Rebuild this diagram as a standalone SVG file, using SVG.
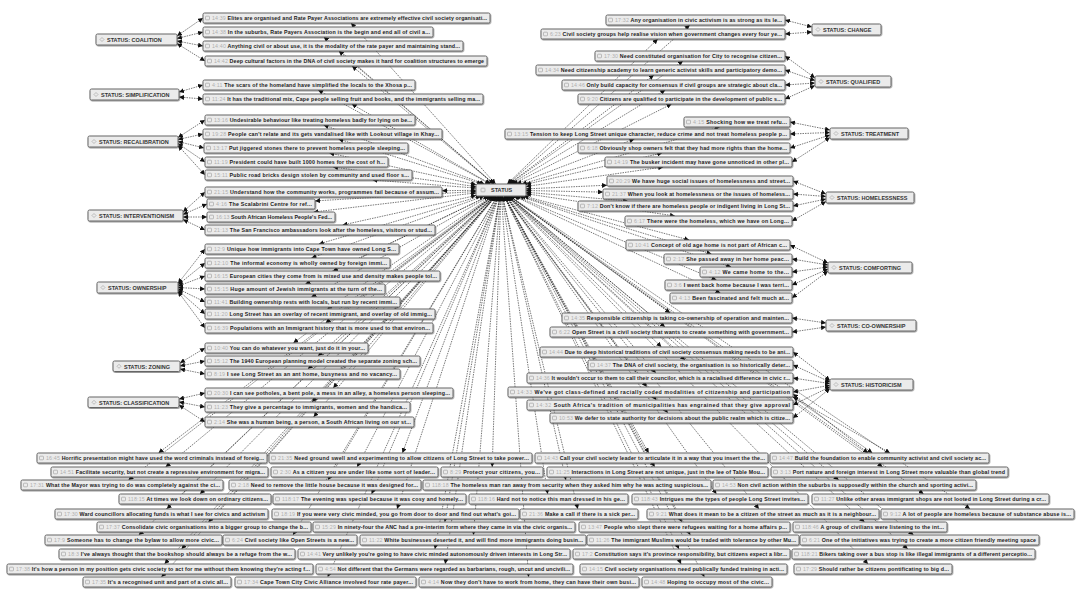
<svg xmlns="http://www.w3.org/2000/svg" xmlns:xlink="http://www.w3.org/1999/xlink" width="1079" height="608" viewBox="0 0 1079 608">
<style>
.n>rect,.k>rect{fill:#ebebeb;stroke:#666;stroke-width:1;filter:url(#sh)}
.n text{font-family:"Liberation Sans",Arial,sans-serif;font-size:5.3px;font-weight:bold;fill:#1a1a1a}
.k text{font-family:"Liberation Sans",Arial,sans-serif;font-size:5.5px;font-weight:bold;fill:#333}
.t{fill:#b0b0b0;font-weight:normal}
.c path{fill:none;stroke:#1e1e1e;stroke-width:.6;stroke-dasharray:1.5 1;marker-start:url(#a);marker-end:url(#a)}
</style>
<defs>
<filter id="sh" x="-5%" y="-40%" width="110%" height="190%"><feDropShadow dx="0.6" dy="0.9" stdDeviation="0.7" flood-color="#000" flood-opacity="0.45"/></filter>
<marker id="a" viewBox="0 0 6 6" refX="6" refY="3" markerWidth="5" markerHeight="5" markerUnits="userSpaceOnUse" orient="auto-start-reverse"><path d="M0,0L6,3L0,6z" fill="#111"/></marker>
<g id="qi"><rect width="4" height="3.6" rx=".6" fill="none" stroke="#9a9a9a" stroke-width=".6"/></g>
<g id="di"><path d="M2,0L4,2L2,4L0,2z" fill="none" stroke="#9a9a9a" stroke-width=".6"/></g>
</defs>
<rect width="1079" height="608" fill="#fff"/>
<g id="connectors" class="c">
<path d="M495.6 184L351 23"/><path d="M494 184L323.8 37"/><path d="M494 184L338.8 51"/><path d="M493.8 184L352 66"/><path d="M490 184L318.1 90"/><path d="M490.6 184L351.7 104"/><path d="M484.6 184L323.6 125"/><path d="M481.9 184L338.4 139"/><path d="M476 184.6L329.2 153"/><path d="M476 186.6L333 167"/><path d="M476 188.1L372.6 180"/><path d="M476 190.3L442 190.7"/><path d="M476 191.5L315 200.9"/><path d="M476 192.9L313.6 212"/><path d="M476 195.5L342.6 225"/><path d="M480.8 196L318.9 244"/><path d="M484.3 196L311.4 258"/><path d="M488.5 196L332.9 271"/><path d="M488.5 196L305.4 284"/><path d="M490.4 196L311.4 297"/><path d="M492.2 196L327.3 309"/><path d="M493.1 196L325.6 323"/><path d="M492.9 196L293.3 343"/><path d="M494.4 196L318 356"/><path d="M494.5 196L307.9 369"/><path d="M495.9 196L333.2 388"/><path d="M495.7 196L312 402"/><path d="M496 196L313.6 417"/>
<path d="M507.9 184L689.8 25"/><path d="M507.2 184L657.8 39"/><path d="M509.5 184L683 61"/><path d="M509 184L653.9 75"/><path d="M510.9 184L665.3 90"/><path d="M512.9 184L671.6 104"/><path d="M521.8 184L719.6 127"/><path d="M516.7 184L634.4 139"/><path d="M526 184.3L662.2 153"/><path d="M526 186.5L663.2 167"/><path d="M526 188.9L607 185.2"/><path d="M526 190.5L603 192.1"/><path d="M526 192.2L627.8 201"/><path d="M526 193.7L675 216"/><path d="M523.6 196L689.2 240"/><path d="M520.7 196L711.5 254"/><path d="M518.9 196L731.1 267"/><path d="M515.4 196L716.5 280"/><path d="M513.8 196L720.4 293"/><path d="M509.3 196L670.1 313"/><path d="M508.2 196L665 327"/><path d="M507.1 196L661.4 347"/><path d="M507.5 196L685.1 360"/><path d="M506.1 196L655.8 373"/><path d="M505.4 196L646.8 387"/><path d="M505.4 196L656.3 400"/><path d="M505.5 196L667.8 413"/>
<path d="M493.2 196L158.5 453"/><path d="M498.7 196L402.4 453"/><path d="M504.4 196L648.7 453"/><path d="M509.5 196L872.4 453"/>
<path d="M493.7 196L165.6 467"/><path d="M497.9 196L357.1 467"/><path d="M500.8 196L492.2 467"/><path d="M504.3 196L654.7 467"/><path d="M509.3 196L882.6 467"/>
<path d="M493.3 196L128.4 480"/><path d="M497.4 196L328 480"/><path d="M502.3 196L565.9 480"/><path d="M508 196L838.7 480"/>
<path d="M495.1 196L200 494"/><path d="M498.4 196L371.6 494"/><path d="M501.9 196L547.7 494"/><path d="M505.3 196L716.5 494"/><path d="M509.3 196L923.6 494"/>
<path d="M494.7 196L166.7 509"/><path d="M499 196L397.1 509"/><path d="M502.4 196L577.8 509"/><path d="M505.9 196L759 509"/><path d="M509.8 196L970.1 509"/>
<path d="M495.7 196L208.4 522"/><path d="M500 196L444.8 522"/><path d="M504.3 196L681.8 522"/><path d="M507.6 196L864.5 522"/>
<path d="M494.7 196L138.8 535"/><path d="M497.4 196L293 535"/><path d="M500.5 196L473.4 535"/><path d="M504.3 196L690.3 535"/><path d="M508.2 196L913.5 535"/>
<path d="M495.7 196L181.5 549"/><path d="M499.9 196L434.9 549"/><path d="M504 196L679 549"/><path d="M507.8 196L907.8 549"/>
<path d="M495.6 196L164.5 564"/><path d="M500.1 196L445.2 564"/><path d="M503.9 196L681.1 564"/><path d="M506.9 196L868.1 564"/>
<path d="M495.7 196L161.4 577"/><path d="M498.3 196L327.7 577"/><path d="M501.4 196L528.6 577"/><path d="M504.2 196L704.4 577"/>
<path d="M177 36L203 18"/><path d="M177 38.5L203 32"/><path d="M177 41L203 46"/><path d="M177 43.5L205 61"/>
<path d="M179 92L203 85"/><path d="M179 97L203 99"/>
<path d="M178 137.5L205 120"/><path d="M178 139.5L203 134"/><path d="M178 141.5L204 148"/><path d="M178 143.5L205 162"/><path d="M178 145.5L205 175"/>
<path d="M183 212L205 192"/><path d="M183 214.5L207 204"/><path d="M183 217L207 217"/><path d="M183 219.5L205 230"/>
<path d="M178 283.5L205 249"/><path d="M178 284.8L205 263"/><path d="M178 286.2L205 276"/><path d="M178 287.5L205 289"/><path d="M178 288.8L205 302"/><path d="M178 290.2L205 314"/><path d="M178 291.5L205 328"/>
<path d="M180 363L205 348"/><path d="M180 366L205 361"/><path d="M180 369L205 374"/>
<path d="M179 399L205 393"/><path d="M179 402L205 407"/><path d="M179 405L205 422"/>
<path d="M785 20L812 27"/><path d="M785 34L812 32"/>
<path d="M785 56L815 78"/><path d="M785 70L815 80.5"/><path d="M785 85L815 83"/><path d="M785 99L815 85.5"/>
<path d="M790 122L830 130"/><path d="M790 134L830 132.5"/><path d="M790 148L830 135"/><path d="M792 162L830 137.5"/>
<path d="M793 181L826 194"/><path d="M793 194L826 196.5"/><path d="M793 206L826 199"/><path d="M792 221L826 201.5"/>
<path d="M790 245L828 263"/><path d="M792 259L828 265"/><path d="M792 272L828 267"/><path d="M792 285L828 269"/><path d="M792 298L828 271"/>
<path d="M792 318L826 323"/><path d="M792 332L826 327"/>
<path d="M793 352L830 380.5"/><path d="M793 365L830 382"/><path d="M793 378L830 383.6"/><path d="M793 392L830 385.2"/><path d="M793 405L830 386.8"/><path d="M793 418L830 388.5"/>
<path d="M793 394L868 453"/><path d="M793 397L890 453"/>
</g>
<g id="nodes">
<g id="status" class="k" transform="translate(476 184)"><rect width="50" height="12" rx="1.5"/><use href="#qi" x="5" y="4.2"/><text x="15" y="8.3">STATUS</text></g>
<g id="k-coalition" class="k" transform="translate(96 34)"><rect width="81" height="11" rx="1.5"/><use href="#di" x="4" y="3.5"/><text x="11" y="7.7">STATUS: COALITION</text></g>
<g id="k-simplification" class="k" transform="translate(90 89)"><rect width="89" height="11" rx="1.5"/><use href="#di" x="4" y="3.5"/><text x="11" y="7.7">STATUS: SIMPLIFICATION</text></g>
<g id="k-recalibration" class="k" transform="translate(88 136)"><rect width="90" height="11" rx="1.5"/><use href="#di" x="4" y="3.5"/><text x="11" y="7.7">STATUS: RECALIBRATION</text></g>
<g id="k-interventionism" class="k" transform="translate(88 210)"><rect width="95" height="11" rx="1.5"/><use href="#di" x="4" y="3.5"/><text x="11" y="7.7">STATUS: INTERVENTIONISM</text></g>
<g id="k-ownership" class="k" transform="translate(97 282)"><rect width="81" height="11" rx="1.5"/><use href="#di" x="4" y="3.5"/><text x="11" y="7.7">STATUS: OWNERSHIP</text></g>
<g id="k-zoning" class="k" transform="translate(113 361)"><rect width="67" height="10.5" rx="1.5"/><use href="#di" x="4" y="3.3"/><text x="11" y="7.5">STATUS: ZONING</text></g>
<g id="k-classification" class="k" transform="translate(88 397)"><rect width="91" height="10.5" rx="1.5"/><use href="#di" x="4" y="3.3"/><text x="11" y="7.5">STATUS: CLASSIFICATION</text></g>
<g id="k-change" class="k" transform="translate(812 24)"><rect width="69" height="11" rx="1.5"/><use href="#di" x="4" y="3.5"/><text x="11" y="7.7">STATUS: CHANGE</text></g>
<g id="k-qualified" class="k" transform="translate(815 76)"><rect width="76" height="11" rx="1.5"/><use href="#di" x="4" y="3.5"/><text x="11" y="7.7">STATUS: QUALIFIED</text></g>
<g id="k-treatment" class="k" transform="translate(830 128)"><rect width="78" height="11" rx="1.5"/><use href="#di" x="4" y="3.5"/><text x="11" y="7.7">STATUS: TREATMENT</text></g>
<g id="k-homelessness" class="k" transform="translate(826 192)"><rect width="88" height="11" rx="1.5"/><use href="#di" x="4" y="3.5"/><text x="11" y="7.7">STATUS: HOMELESSNESS</text></g>
<g id="k-comforting" class="k" transform="translate(828 262)"><rect width="84" height="11" rx="1.5"/><use href="#di" x="4" y="3.5"/><text x="11" y="7.7">STATUS: COMFORTING</text></g>
<g id="k-coownership" class="k" transform="translate(826 320)"><rect width="90" height="11" rx="1.5"/><use href="#di" x="4" y="3.5"/><text x="11" y="7.7">STATUS: CO-OWNERSHIP</text></g>
<g id="k-historicism" class="k" transform="translate(830 379)"><rect width="83" height="11" rx="1.5"/><use href="#di" x="4" y="3.5"/><text x="11" y="7.7">STATUS: HISTORICISM</text></g>

<g id="L1" class="n" transform="translate(203 13)"><rect width="287" height="10" rx="1.5"/><use href="#qi" x="2.5" y="3.2"/><text x="9" y="7.1" textLength="275"><tspan class="t">14:39</tspan> Elites are organised and Rate Payer Associations are extremely effective civil society organisati...</text></g>
<g id="L2" class="n" transform="translate(203 27)"><rect width="230" height="10" rx="1.5"/><use href="#qi" x="2.5" y="3.2"/><text x="9" y="7.1" textLength="218"><tspan class="t">14:38</tspan> In the suburbs, Rate Payers Association is the begin and end all of civil a...</text></g>
<g id="L3" class="n" transform="translate(203 41)"><rect width="260" height="10" rx="1.5"/><use href="#qi" x="2.5" y="3.2"/><text x="9" y="7.1" textLength="248"><tspan class="t">14:40</tspan> Anything civil or about use, it is the modality of the rate payer and maintaining stand...</text></g>
<g id="L4" class="n" transform="translate(205 56)"><rect width="282" height="10" rx="1.5"/><use href="#qi" x="2.5" y="3.2"/><text x="9" y="7.1" textLength="270"><tspan class="t">14:42</tspan> Deep cultural factors in the DNA of civil society makes it hard for coalition structures to emerge</text></g>
<g id="L5" class="n" transform="translate(203 80)"><rect width="212" height="10" rx="1.5"/><use href="#qi" x="2.5" y="3.2"/><text x="9" y="7.1" textLength="200"><tspan class="t">4:11</tspan> The scars of the homeland have simplified the locals to the Xhosa p...</text></g>
<g id="L6" class="n" transform="translate(203 94)"><rect width="280" height="10" rx="1.5"/><use href="#qi" x="2.5" y="3.2"/><text x="9" y="7.1" textLength="268"><tspan class="t">11:24</tspan> It has the traditional mix, Cape people selling fruit and books, and the immigrants selling ma...</text></g>
<g id="L7" class="n" transform="translate(205 115)"><rect width="210" height="10" rx="1.5"/><use href="#qi" x="2.5" y="3.2"/><text x="9" y="7.1" textLength="198"><tspan class="t">13:16</tspan> Undesirable behaviour like treating homeless badly for lying on be...</text></g>
<g id="L8" class="n" transform="translate(203 129)"><rect width="239" height="10" rx="1.5"/><use href="#qi" x="2.5" y="3.2"/><text x="9" y="7.1" textLength="227"><tspan class="t">19:28</tspan> People can't relate and its gets vandalised like with Lookout village in Khay...</text></g>
<g id="L9" class="n" transform="translate(204 143)"><rect width="204" height="10" rx="1.5"/><use href="#qi" x="2.5" y="3.2"/><text x="9" y="7.1" textLength="192"><tspan class="t">13:17</tspan> Put jiggered stones there to prevent homeless people sleeping...</text></g>
<g id="L10" class="n" transform="translate(205 157)"><rect width="183" height="10" rx="1.5"/><use href="#qi" x="2.5" y="3.2"/><text x="9" y="7.1" textLength="171"><tspan class="t">11:19</tspan> President could have built 1000 homes for the cost of h...</text></g>
<g id="L11" class="n" transform="translate(205 170)"><rect width="207" height="10" rx="1.5"/><use href="#qi" x="2.5" y="3.2"/><text x="9" y="7.1" textLength="195"><tspan class="t">15:11</tspan> Public road bricks design stolen by community and used floor s...</text></g>
<g id="L12" class="n" transform="translate(205 187)"><rect width="237" height="10" rx="1.5"/><use href="#qi" x="2.5" y="3.2"/><text x="9" y="7.1" textLength="225"><tspan class="t">21:15</tspan> Understand how the community works, programmes fail because of assum...</text></g>
<g id="L13" class="n" transform="translate(207 199)"><rect width="108" height="10" rx="1.5"/><use href="#qi" x="2.5" y="3.2"/><text x="9" y="7.1" textLength="96"><tspan class="t">4:16</tspan> The Scalabrini Centre for ref...</text></g>
<g id="L14" class="n" transform="translate(207 212)"><rect width="128" height="10" rx="1.5"/><use href="#qi" x="2.5" y="3.2"/><text x="9" y="7.1" textLength="116"><tspan class="t">16:13</tspan> South African Homeless People's Fed...</text></g>
<g id="L15" class="n" transform="translate(205 225)"><rect width="230" height="10" rx="1.5"/><use href="#qi" x="2.5" y="3.2"/><text x="9" y="7.1" textLength="218"><tspan class="t">21:13</tspan> The San Francisco ambassadors look after the homeless, visitors or stud...</text></g>
<g id="L16" class="n" transform="translate(205 244)"><rect width="194" height="10" rx="1.5"/><use href="#qi" x="2.5" y="3.2"/><text x="9" y="7.1" textLength="182"><tspan class="t">12:9</tspan> Unique how immigrants into Cape Town have owned Long S...</text></g>
<g id="L17" class="n" transform="translate(205 258)"><rect width="185" height="10" rx="1.5"/><use href="#qi" x="2.5" y="3.2"/><text x="9" y="7.1" textLength="173"><tspan class="t">12:10</tspan> The informal economy is wholly owned by foreign immi...</text></g>
<g id="L18" class="n" transform="translate(205 271)"><rect width="235" height="10" rx="1.5"/><use href="#qi" x="2.5" y="3.2"/><text x="9" y="7.1" textLength="223"><tspan class="t">16:15</tspan> European cities they come from is mixed use and density makes people tol...</text></g>
<g id="L19" class="n" transform="translate(205 284)"><rect width="180" height="10" rx="1.5"/><use href="#qi" x="2.5" y="3.2"/><text x="9" y="7.1" textLength="168"><tspan class="t">15:15</tspan> Huge amount of Jewish immigrants at the turn of the...</text></g>
<g id="L20" class="n" transform="translate(205 297)"><rect width="195" height="10" rx="1.5"/><use href="#qi" x="2.5" y="3.2"/><text x="9" y="7.1" textLength="183"><tspan class="t">11:41</tspan> Building ownership rests with locals, but run by recent immi...</text></g>
<g id="L21" class="n" transform="translate(205 309)"><rect width="230" height="10" rx="1.5"/><use href="#qi" x="2.5" y="3.2"/><text x="9" y="7.1" textLength="218"><tspan class="t">11:20</tspan> Long Street has an overlay of recent immigrant, and overlay of old immig...</text></g>
<g id="L22" class="n" transform="translate(205 323)"><rect width="228" height="10" rx="1.5"/><use href="#qi" x="2.5" y="3.2"/><text x="9" y="7.1" textLength="216"><tspan class="t">16:39</tspan> Populations with an Immigrant history that is more used to that environ...</text></g>
<g id="L23" class="n" transform="translate(205 343)"><rect width="163" height="10" rx="1.5"/><use href="#qi" x="2.5" y="3.2"/><text x="9" y="7.1" textLength="151"><tspan class="t">10:40</tspan> You can do whatever you want, just do it in your...</text></g>
<g id="L24" class="n" transform="translate(205 356)"><rect width="215" height="10" rx="1.5"/><use href="#qi" x="2.5" y="3.2"/><text x="9" y="7.1" textLength="203"><tspan class="t">15:12</tspan> The 1940 European planning model created the separate zoning sch...</text></g>
<g id="L25" class="n" transform="translate(205 369)"><rect width="195" height="10" rx="1.5"/><use href="#qi" x="2.5" y="3.2"/><text x="9" y="7.1" textLength="183"><tspan class="t">8:19</tspan> I see Long Street as an ant home, busyness and no vacancy...</text></g>
<g id="L26" class="n" transform="translate(205 388)"><rect width="248" height="10" rx="1.5"/><use href="#qi" x="2.5" y="3.2"/><text x="9" y="7.1" textLength="236"><tspan class="t">20:30</tspan> I can see potholes, a bent pole, a mess in an alley, a homeless person sleeping...</text></g>
<g id="L27" class="n" transform="translate(205 402)"><rect width="205" height="10" rx="1.5"/><use href="#qi" x="2.5" y="3.2"/><text x="9" y="7.1" textLength="193"><tspan class="t">11:23</tspan> They give a percentage to immigrants, women and the handica...</text></g>
<g id="L28" class="n" transform="translate(205 417)"><rect width="209" height="10" rx="1.5"/><use href="#qi" x="2.5" y="3.2"/><text x="9" y="7.1" textLength="197"><tspan class="t">2:14</tspan> She was a human being, a person, a South African living on our st...</text></g>

<g id="R1" class="n" transform="translate(606 15)"><rect width="179" height="10" rx="1.5"/><use href="#qi" x="2.5" y="3.2"/><text x="9" y="7.1" textLength="167"><tspan class="t">17:32</tspan> Any organisation in civic activism is as strong as its le...</text></g>
<g id="R2" class="n" transform="translate(541 29)"><rect width="244" height="10" rx="1.5"/><use href="#qi" x="2.5" y="3.2"/><text x="9" y="7.1" textLength="232"><tspan class="t">6:23</tspan> Civil society groups help realise vision when government changes every four ye...</text></g>
<g id="R3" class="n" transform="translate(595 51)"><rect width="190" height="10" rx="1.5"/><use href="#qi" x="2.5" y="3.2"/><text x="9" y="7.1" textLength="178"><tspan class="t">17:30</tspan> Need constituted organisation for City to recognise citizen...</text></g>
<g id="R4" class="n" transform="translate(536 65)"><rect width="249" height="10" rx="1.5"/><use href="#qi" x="2.5" y="3.2"/><text x="9" y="7.1" textLength="237"><tspan class="t">14:34</tspan> Need citizenship academy to learn generic activist skills and participatory demo...</text></g>
<g id="R5" class="n" transform="translate(562 80)"><rect width="223" height="10" rx="1.5"/><use href="#qi" x="2.5" y="3.2"/><text x="9" y="7.1" textLength="211"><tspan class="t">14:46</tspan> Only build capacity for consensus if civil groups are strategic about cla...</text></g>
<g id="R6" class="n" transform="translate(578 94)"><rect width="207" height="10" rx="1.5"/><use href="#qi" x="2.5" y="3.2"/><text x="9" y="7.1" textLength="195"><tspan class="t">9:20</tspan> Citizens are qualified to participate in the development of public s...</text></g>
<g id="R7" class="n" transform="translate(684 117)"><rect width="106" height="10" rx="1.5"/><use href="#qi" x="2.5" y="3.2"/><text x="9" y="7.1" textLength="94"><tspan class="t">4:15</tspan> Shocking how we treat refu...</text></g>
<g id="R8" class="n" transform="translate(505 129)"><rect width="285" height="10" rx="1.5"/><use href="#qi" x="2.5" y="3.2"/><text x="9" y="7.1" textLength="273"><tspan class="t">13:15</tspan> Tension to keep Long Street unique character, reduce crime and not treat homeless people p...</text></g>
<g id="R9" class="n" transform="translate(578 143)"><rect width="212" height="10" rx="1.5"/><use href="#qi" x="2.5" y="3.2"/><text x="9" y="7.1" textLength="200"><tspan class="t">6:18</tspan> Obviously shop owners felt that they had more rights than the home...</text></g>
<g id="R10" class="n" transform="translate(605 157)"><rect width="187" height="10" rx="1.5"/><use href="#qi" x="2.5" y="3.2"/><text x="9" y="7.1" textLength="175"><tspan class="t">14:19</tspan> The busker incident may have gone unnoticed in other pl...</text></g>
<g id="R11" class="n" transform="translate(607 176)"><rect width="186" height="10" rx="1.5"/><use href="#qi" x="2.5" y="3.2"/><text x="9" y="7.1" textLength="174"><tspan class="t">20:29</tspan> We have huge social issues of homelessness and street...</text></g>
<g id="R12" class="n" transform="translate(603 189)"><rect width="190" height="10" rx="1.5"/><use href="#qi" x="2.5" y="3.2"/><text x="9" y="7.1" textLength="178"><tspan class="t">21:37</tspan> When you look at homelessness or the issues of homeless...</text></g>
<g id="R13" class="n" transform="translate(578 201)"><rect width="215" height="10" rx="1.5"/><use href="#qi" x="2.5" y="3.2"/><text x="9" y="7.1" textLength="203"><tspan class="t">7:12</tspan> Don't know if there are homeless people or indigent living in Long St...</text></g>
<g id="R14" class="n" transform="translate(625 216)"><rect width="167" height="10" rx="1.5"/><use href="#qi" x="2.5" y="3.2"/><text x="9" y="7.1" textLength="155"><tspan class="t">6:17</tspan> There were the homeless, which we have on Long...</text></g>
<g id="R15" class="n" transform="translate(626 240)"><rect width="164" height="10" rx="1.5"/><use href="#qi" x="2.5" y="3.2"/><text x="9" y="7.1" textLength="152"><tspan class="t">10:41</tspan> Concept of old age home is not part of African c...</text></g>
<g id="R16" class="n" transform="translate(664 254)"><rect width="128" height="10" rx="1.5"/><use href="#qi" x="2.5" y="3.2"/><text x="9" y="7.1" textLength="116"><tspan class="t">2:17</tspan> She passed away in her home peac...</text></g>
<g id="R17" class="n" transform="translate(700 267)"><rect width="92" height="10" rx="1.5"/><use href="#qi" x="2.5" y="3.2"/><text x="9" y="7.1" textLength="80"><tspan class="t">4:12</tspan> We came home to the...</text></g>
<g id="R18" class="n" transform="translate(665 280)"><rect width="127" height="10" rx="1.5"/><use href="#qi" x="2.5" y="3.2"/><text x="9" y="7.1" textLength="115"><tspan class="t">3:6</tspan> I went back home because I was terri...</text></g>
<g id="R19" class="n" transform="translate(670 293)"><rect width="122" height="10" rx="1.5"/><use href="#qi" x="2.5" y="3.2"/><text x="9" y="7.1" textLength="110"><tspan class="t">4:13</tspan> Been fascinated and felt much at...</text></g>
<g id="R20" class="n" transform="translate(562 313)"><rect width="230" height="10" rx="1.5"/><use href="#qi" x="2.5" y="3.2"/><text x="9" y="7.1" textLength="218"><tspan class="t">14:35</tspan> Responsible citizenship is taking co-ownership of operation and mainten...</text></g>
<g id="R21" class="n" transform="translate(550 327)"><rect width="242" height="10" rx="1.5"/><use href="#qi" x="2.5" y="3.2"/><text x="9" y="7.1" textLength="230"><tspan class="t">6:22</tspan> Open Street is a civil society that wants to create something with government...</text></g>
<g id="R22" class="n" transform="translate(540 347)"><rect width="253" height="10" rx="1.5"/><use href="#qi" x="2.5" y="3.2"/><text x="9" y="7.1" textLength="241"><tspan class="t">14:44</tspan> Due to deep historical traditions of civil society consensus making needs to be ani...</text></g>
<g id="R23" class="n" transform="translate(588 360)"><rect width="205" height="10" rx="1.5"/><use href="#qi" x="2.5" y="3.2"/><text x="9" y="7.1" textLength="193"><tspan class="t">14:37</tspan> The DNA of civil society, the organisation is so historically deter...</text></g>
<g id="R24" class="n" transform="translate(527 373)"><rect width="266" height="10" rx="1.5"/><use href="#qi" x="2.5" y="3.2"/><text x="9" y="7.1" textLength="254"><tspan class="t">14:36</tspan> It wouldn't occur to them to call their councilor, which is a racialised difference in civic r...</text></g>
<g id="R25" class="n" transform="translate(508 387)"><rect width="285" height="10" rx="1.5"/><use href="#qi" x="2.5" y="3.2"/><text x="9" y="7.1" textLength="273"><tspan class="t">14:33</tspan> We've got class-defined and racially coded modalities of citizenship and participation</text></g>
<g id="R26" class="n" transform="translate(527 400)"><rect width="266" height="10" rx="1.5"/><use href="#qi" x="2.5" y="3.2"/><text x="9" y="7.1" textLength="254"><tspan class="t">14:32</tspan> South Africa's tradition of municipalities has engrained that they give approval</text></g>
<g id="R27" class="n" transform="translate(550 413)"><rect width="243" height="10" rx="1.5"/><use href="#qi" x="2.5" y="3.2"/><text x="9" y="7.1" textLength="231"><tspan class="t">10:53</tspan> We defer to state authority for decisions about the public realm which is citize...</text></g>

<g id="A1" class="n" transform="translate(37 453)"><rect width="230" height="10" rx="1.5"/><use href="#qi" x="2.5" y="3.2"/><text x="9" y="7.1" textLength="218"><tspan class="t">16:45</tspan> Horrific presentation might have used the word criminals instead of foreig...</text></g>
<g id="A2" class="n" transform="translate(269 453)"><rect width="263" height="10" rx="1.5"/><use href="#qi" x="2.5" y="3.2"/><text x="9" y="7.1" textLength="251"><tspan class="t">21:35</tspan> Need ground swell and experimenting to allow citizens of Long Street to take power...</text></g>
<g id="A3" class="n" transform="translate(535 453)"><rect width="233" height="10" rx="1.5"/><use href="#qi" x="2.5" y="3.2"/><text x="9" y="7.1" textLength="221"><tspan class="t">14:43</tspan> Call your civil society leader to articulate it in a way that you insert the the...</text></g>
<g id="A4" class="n" transform="translate(770 453)"><rect width="219" height="10" rx="1.5"/><use href="#qi" x="2.5" y="3.2"/><text x="9" y="7.1" textLength="207"><tspan class="t">14:47</tspan> Build the foundation to enable community activist and civil society ac...</text></g>
<g id="B1" class="n" transform="translate(51 467)"><rect width="217" height="10" rx="1.5"/><use href="#qi" x="2.5" y="3.2"/><text x="9" y="7.1" textLength="205"><tspan class="t">14:51</tspan> Facilitate security, but not create a repressive environment for migra...</text></g>
<g id="B2" class="n" transform="translate(271 467)"><rect width="167" height="10" rx="1.5"/><use href="#qi" x="2.5" y="3.2"/><text x="9" y="7.1" textLength="155"><tspan class="t">2:30</tspan> As a citizen you are under like some sort of leader...</text></g>
<g id="B3" class="n" transform="translate(441 467)"><rect width="102" height="10" rx="1.5"/><use href="#qi" x="2.5" y="3.2"/><text x="9" y="7.1" textLength="90"><tspan class="t">8:29</tspan> Protect your citizens, you...</text></g>
<g id="B4" class="n" transform="translate(547 467)"><rect width="221" height="10" rx="1.5"/><use href="#qi" x="2.5" y="3.2"/><text x="9" y="7.1" textLength="209"><tspan class="t">11:25</tspan> Interactions in Long Street are not unique, just in the lee of Table Mou...</text></g>
<g id="B5" class="n" transform="translate(771 467)"><rect width="237" height="10" rx="1.5"/><use href="#qi" x="2.5" y="3.2"/><text x="9" y="7.1" textLength="225"><tspan class="t">3:13</tspan> Port nature and foreign interest in Long Street more valuable than global trend</text></g>
<g id="C1" class="n" transform="translate(21 480)"><rect width="202" height="10" rx="1.5"/><use href="#qi" x="2.5" y="3.2"/><text x="9" y="7.1" textLength="190"><tspan class="t">17:31</tspan> What the Mayor was trying to do was completely against the ci...</text></g>
<g id="C2" class="n" transform="translate(229 480)"><rect width="192" height="10" rx="1.5"/><use href="#qi" x="2.5" y="3.2"/><text x="9" y="7.1" textLength="180"><tspan class="t">2:18</tspan> Need to remove the little house because it was designed for...</text></g>
<g id="C3" class="n" transform="translate(423 480)"><rect width="288" height="10" rx="1.5"/><use href="#qi" x="2.5" y="3.2"/><text x="9" y="7.1" textLength="276"><tspan class="t">118:18</tspan> The homeless man ran away from security when they asked him why he was acting suspicious...</text></g>
<g id="C4" class="n" transform="translate(713 480)"><rect width="263" height="10" rx="1.5"/><use href="#qi" x="2.5" y="3.2"/><text x="9" y="7.1" textLength="251"><tspan class="t">14:53</tspan> Non civil action within the suburbs is supposedly within the church and sporting activi...</text></g>
<g id="D1" class="n" transform="translate(119 494)"><rect width="152" height="10" rx="1.5"/><use href="#qi" x="2.5" y="3.2"/><text x="9" y="7.1" textLength="140"><tspan class="t">118:15</tspan> At times we look down on ordinary citizens...</text></g>
<g id="D2" class="n" transform="translate(273 494)"><rect width="193" height="10" rx="1.5"/><use href="#qi" x="2.5" y="3.2"/><text x="9" y="7.1" textLength="181"><tspan class="t">118:17</tspan> The evening was special because it was cosy and homely...</text></g>
<g id="D3" class="n" transform="translate(469 494)"><rect width="159" height="10" rx="1.5"/><use href="#qi" x="2.5" y="3.2"/><text x="9" y="7.1" textLength="147"><tspan class="t">118:16</tspan> Hard not to notice this man dressed in his ge...</text></g>
<g id="D4" class="n" transform="translate(632 494)"><rect width="176" height="10" rx="1.5"/><use href="#qi" x="2.5" y="3.2"/><text x="9" y="7.1" textLength="164"><tspan class="t">118:43</tspan> Intrigues me the types of people Long Street invites...</text></g>
<g id="D5" class="n" transform="translate(812 494)"><rect width="237" height="10" rx="1.5"/><use href="#qi" x="2.5" y="3.2"/><text x="9" y="7.1" textLength="225"><tspan class="t">11:27</tspan> Unlike other areas immigrant shops are not looted in Long Street during a cr...</text></g>
<g id="E1" class="n" transform="translate(55 509)"><rect width="213" height="10" rx="1.5"/><use href="#qi" x="2.5" y="3.2"/><text x="9" y="7.1" textLength="201"><tspan class="t">17:30</tspan> Ward councillors allocating funds is what I see for civics and activism</text></g>
<g id="E2" class="n" transform="translate(272 509)"><rect width="247" height="10" rx="1.5"/><use href="#qi" x="2.5" y="3.2"/><text x="9" y="7.1" textLength="235"><tspan class="t">18:19</tspan> If you were very civic minded, you go from door to door and find out what's goi...</text></g>
<g id="E3" class="n" transform="translate(520 509)"><rect width="118" height="10" rx="1.5"/><use href="#qi" x="2.5" y="3.2"/><text x="9" y="7.1" textLength="106"><tspan class="t">21:36</tspan> Make a call if there is a sick per...</text></g>
<g id="E4" class="n" transform="translate(647 509)"><rect width="232" height="10" rx="1.5"/><use href="#qi" x="2.5" y="3.2"/><text x="9" y="7.1" textLength="220"><tspan class="t">9:21</tspan> What does it mean to be a citizen of the street as much as it is a neighbour...</text></g>
<g id="E5" class="n" transform="translate(881 509)"><rect width="193" height="10" rx="1.5"/><use href="#qi" x="2.5" y="3.2"/><text x="9" y="7.1" textLength="181"><tspan class="t">9:12</tspan> A lot of people are homeless because of substance abuse is...</text></g>
<g id="F1" class="n" transform="translate(97 522)"><rect width="214" height="10" rx="1.5"/><use href="#qi" x="2.5" y="3.2"/><text x="9" y="7.1" textLength="202"><tspan class="t">17:37</tspan> Consolidate civic organisations into a bigger group to change the b...</text></g>
<g id="F2" class="n" transform="translate(313 522)"><rect width="262" height="10" rx="1.5"/><use href="#qi" x="2.5" y="3.2"/><text x="9" y="7.1" textLength="250"><tspan class="t">15:29</tspan> In ninety-four the ANC had a pre-interim form where they came in via the civic organis...</text></g>
<g id="F3" class="n" transform="translate(579 522)"><rect width="211" height="10" rx="1.5"/><use href="#qi" x="2.5" y="3.2"/><text x="9" y="7.1" textLength="199"><tspan class="t">13:47</tspan> People who slept there were refugees waiting for a home affairs p...</text></g>
<g id="F4" class="n" transform="translate(793 522)"><rect width="154" height="10" rx="1.5"/><use href="#qi" x="2.5" y="3.2"/><text x="9" y="7.1" textLength="142"><tspan class="t">118:46</tspan> A group of civilians were listening to the int...</text></g>
<g id="G1" class="n" transform="translate(45 535)"><rect width="177" height="10" rx="1.5"/><use href="#qi" x="2.5" y="3.2"/><text x="9" y="7.1" textLength="165"><tspan class="t">17:9</tspan> Someone has to change the bylaw to allow more civic...</text></g>
<g id="G2" class="n" transform="translate(223 535)"><rect width="134" height="10" rx="1.5"/><use href="#qi" x="2.5" y="3.2"/><text x="9" y="7.1" textLength="122"><tspan class="t">6:24</tspan> Civil society like Open Streets is a new...</text></g>
<g id="G3" class="n" transform="translate(360 535)"><rect width="226" height="10" rx="1.5"/><use href="#qi" x="2.5" y="3.2"/><text x="9" y="7.1" textLength="214"><tspan class="t">11:22</tspan> White businesses deserted it, and will find more immigrants doing busin...</text></g>
<g id="G4" class="n" transform="translate(587 535)"><rect width="212" height="10" rx="1.5"/><use href="#qi" x="2.5" y="3.2"/><text x="9" y="7.1" textLength="200"><tspan class="t">11:26</tspan> The immigrant Muslims would be traded with tolerance by other Mu...</text></g>
<g id="G5" class="n" transform="translate(800 535)"><rect width="239" height="10" rx="1.5"/><use href="#qi" x="2.5" y="3.2"/><text x="9" y="7.1" textLength="227"><tspan class="t">6:21</tspan> One of the initiatives was trying to create a more citizen friendly meeting space</text></g>
<g id="H1" class="n" transform="translate(59 549)"><rect width="236" height="10" rx="1.5"/><use href="#qi" x="2.5" y="3.2"/><text x="9" y="7.1" textLength="224"><tspan class="t">18:3</tspan> I've always thought that the bookshop should always be a refuge from the w...</text></g>
<g id="H2" class="n" transform="translate(298 549)"><rect width="272" height="10" rx="1.5"/><use href="#qi" x="2.5" y="3.2"/><text x="9" y="7.1" textLength="260"><tspan class="t">14:41</tspan> Very unlikely you're going to have civic minded autonomously driven interests in Long Str...</text></g>
<g id="H3" class="n" transform="translate(573 549)"><rect width="217" height="10" rx="1.5"/><use href="#qi" x="2.5" y="3.2"/><text x="9" y="7.1" textLength="205"><tspan class="t">17:2</tspan> Constitution says it's province responsibility, but citizens expect a libr...</text></g>
<g id="H4" class="n" transform="translate(792 549)"><rect width="243" height="10" rx="1.5"/><use href="#qi" x="2.5" y="3.2"/><text x="9" y="7.1" textLength="231"><tspan class="t">118:21</tspan> Bikers taking over a bus stop is like illegal immigrants of a different perceptio...</text></g>
<g id="I1" class="n" transform="translate(7 564)"><rect width="306" height="10" rx="1.5"/><use href="#qi" x="2.5" y="3.2"/><text x="9" y="7.1" textLength="294"><tspan class="t">17:38</tspan> It's how a person in my position gets civic society to act for me without them knowing they're acting f...</text></g>
<g id="I2" class="n" transform="translate(316 564)"><rect width="257" height="10" rx="1.5"/><use href="#qi" x="2.5" y="3.2"/><text x="9" y="7.1" textLength="245"><tspan class="t">4:54</tspan> Not different that the Germans were regarded as barbarians, rough, uncut and uncivili...</text></g>
<g id="I3" class="n" transform="translate(580 564)"><rect width="207" height="10" rx="1.5"/><use href="#qi" x="2.5" y="3.2"/><text x="9" y="7.1" textLength="195"><tspan class="t">14:15</tspan> Civil society organisations need publically funded training in acti...</text></g>
<g id="I4" class="n" transform="translate(794 564)"><rect width="158" height="10" rx="1.5"/><use href="#qi" x="2.5" y="3.2"/><text x="9" y="7.1" textLength="146"><tspan class="t">17:29</tspan> Should rather be citizens pontificating to big d...</text></g>
<g id="J1" class="n" transform="translate(83 577)"><rect width="148" height="10" rx="1.5"/><use href="#qi" x="2.5" y="3.2"/><text x="9" y="7.1" textLength="136"><tspan class="t">17:35</tspan> It's a recognised unit and part of a civic all...</text></g>
<g id="J2" class="n" transform="translate(235 577)"><rect width="181" height="10" rx="1.5"/><use href="#qi" x="2.5" y="3.2"/><text x="9" y="7.1" textLength="169"><tspan class="t">17:34</tspan> Cape Town City Civic Alliance involved four rate payer...</text></g>
<g id="J3" class="n" transform="translate(419 577)"><rect width="220" height="10" rx="1.5"/><use href="#qi" x="2.5" y="3.2"/><text x="9" y="7.1" textLength="208"><tspan class="t">4:14</tspan> Now they don't have to work from home, they can have their own busi...</text></g>
<g id="J4" class="n" transform="translate(642 577)"><rect width="130" height="10" rx="1.5"/><use href="#qi" x="2.5" y="3.2"/><text x="9" y="7.1" textLength="118"><tspan class="t">14:48</tspan> Hoping to occupy most of the civic...</text></g>
</g>
</svg>
